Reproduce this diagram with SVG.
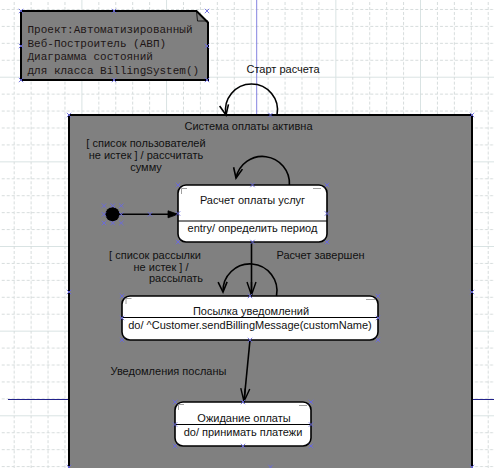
<svg xmlns="http://www.w3.org/2000/svg" xmlns:xlink="http://www.w3.org/1999/xlink" width="494" height="468" viewBox="0 0 494 468">
<style>
.lbl{font-family:"Liberation Sans",Arial,sans-serif;font-size:11px;fill:#111}
.mono{font-family:"Liberation Mono","Courier New",monospace;font-size:11px;fill:#1e1616}
.st{fill:#fff;stroke:#000;stroke-width:1.6}
.div{stroke:#000;stroke-width:1.2}
.cn{fill:none;stroke:#000;stroke-width:1.6}
.tick{fill:none;stroke:#a0a0a0;stroke-width:1}
.hx{stroke:#6a6ae0;stroke-width:0.9;fill:none}
</style>
<defs>
<pattern id="grid" patternUnits="userSpaceOnUse" x="81.4" y="76.7" width="84.65" height="84.65">
<path d="M0.5,0 V84.65 M0,0.5 H84.65" stroke="#d9e3e3" stroke-width="1" fill="none"/>
<path d="M17.43,0 V84.65 M34.36,0 V84.65 M51.29,0 V84.65 M68.22,0 V84.65 M0,17.43 H84.65 M0,34.36 H84.65 M0,51.29 H84.65 M0,68.22 H84.65" stroke="#d6dcdc" stroke-width="1" stroke-dasharray="3,2" fill="none"/>
</pattern>
<marker id="open" markerUnits="userSpaceOnUse" markerWidth="14" markerHeight="12" refX="10" refY="5" orient="auto" overflow="visible">
<path d="M0,0.5 L10,5 L0,9.5" fill="none" stroke="#000" stroke-width="1.6"/>
</marker>
<marker id="open2" markerUnits="userSpaceOnUse" markerWidth="16" markerHeight="12" refX="13" refY="5" orient="auto" overflow="visible">
<path d="M0,0.5 L13,5 L0,9.5 M0,5 L13,5" fill="none" stroke="#000" stroke-width="1.4"/>
</marker>
<marker id="fill" markerUnits="userSpaceOnUse" markerWidth="12" markerHeight="10" refX="10" refY="4" orient="auto" overflow="visible">
<path d="M0,0.5 L10,4 L0,7.5 Z" fill="#000" stroke="#000" stroke-width="0.8"/>
</marker>
<path id="hx" class="hx" d="M-2.2,-2.2 L2.2,2.2 M-2.2,2.2 L2.2,-2.2"/>
</defs>

<rect x="0" y="0" width="494" height="468" fill="#fff"/>
<rect x="0" y="0" width="494" height="468" fill="url(#grid)"/>

<g id="guides">
<line x1="256.7" y1="0" x2="256.7" y2="115" stroke="#8383e0" stroke-width="1"/>
<line x1="8" y1="399.5" x2="69" y2="399.5" stroke="#22228a" stroke-width="1"/>
<line x1="472" y1="399.5" x2="494" y2="399.5" stroke="#22228a" stroke-width="1"/>
</g>

<g id="note">
<polygon points="21,11 196.5,11 208,22.5 208,80 21,80" fill="#808080" stroke="#000" stroke-width="2"/>
<path d="M196.5,11 L197.5,21 L208,21" fill="none" stroke="#000" stroke-width="0.8"/>
<text class="mono" x="27.5" y="33">Проект:Автоматизированный</text>
<text class="mono" x="27.5" y="46.5">Веб-Построитель (АВП)</text>
<text class="mono" x="27.5" y="60">Диаграмма состояний</text>
<text class="mono" x="27.5" y="73.5">для класса BillingSystem()</text>
</g>

<g id="billing-active">
<rect x="69" y="115" width="403" height="356" fill="#808080" stroke="#000" stroke-width="2"/>
<text class="lbl" x="248.5" y="130" text-anchor="middle">Система оплаты активна</text>
</g>

<g id="initial">
<circle cx="112.5" cy="214.3" r="7" fill="#000"/>
</g>

<g id="calc-state">
<rect class="st" x="178" y="185" width="149" height="57" rx="8"/>
<line class="div" x1="178" y1="221" x2="327" y2="221"/>
<path class="tick" d="M181.5,194 V188.5 H187"/>
<path class="tick" d="M313,188.5 H321"/>
<text class="lbl" x="252.5" y="204" text-anchor="middle">Расчет оплаты услуг</text>
<text class="lbl" x="252.5" y="232" text-anchor="middle">entry/ определить период</text>
</g>

<g id="notify-state">
<rect class="st" x="122" y="296" width="256" height="44" rx="8"/>
<line class="div" x1="122" y1="317.5" x2="378" y2="317.5"/>
<path class="tick" d="M126,304 V298.5 H131.5"/>
<path class="tick" d="M366,299.5 H375"/>
<text class="lbl" x="251" y="314.5" text-anchor="middle">Посылка уведомлений</text>
<text class="lbl" x="250" y="329" text-anchor="middle">do/ ^Customer.sendBillingMessage(customName)</text>
</g>

<g id="wait-state">
<rect class="st" x="175" y="402" width="136" height="44" rx="8"/>
<line class="div" x1="175" y1="424.5" x2="311" y2="424.5"/>
<path class="tick" d="M178.5,410 V404.5 H184"/>
<path class="tick" d="M299,405.5 H307"/>
<text class="lbl" x="244" y="422" text-anchor="middle">Ожидание оплаты</text>
<text class="lbl" x="243" y="435.5" text-anchor="middle">do/ принимать платежи</text>
</g>

<g id="connectors">
<path class="cn" d="M277,115 A26,26 0 1 0 226,115" marker-end="url(#open)"/>
<line class="cn" x1="119" y1="214.3" x2="178" y2="214.3" marker-end="url(#fill)"/>
<path class="cn" d="M289.4,185 A27,27 0 0 0 236,178" marker-end="url(#open)"/>
<line class="cn" x1="251.5" y1="242" x2="251.5" y2="295" marker-end="url(#open2)"/>
<path class="cn" d="M276.5,296 A27,27 0 1 0 223,292" marker-end="url(#open)"/>
<line class="cn" x1="250" y1="340" x2="244" y2="401.5" marker-end="url(#open2)"/>
</g>

<g id="labels">
<text class="lbl" x="283" y="73" text-anchor="middle">Старт расчета</text>
<text class="lbl" text-anchor="middle"><tspan x="146" y="147">[ список пользователей</tspan><tspan x="146" y="159">не истек ] / рассчитать</tspan><tspan x="146" y="171">сумму</tspan></text>
<text class="lbl" text-anchor="middle"><tspan x="155" y="259">[ список рассылки</tspan><tspan x="161" y="271">не истек ] /</tspan><tspan x="176" y="282">рассылать</tspan></text>
<text class="lbl" x="320.5" y="259" text-anchor="middle">Расчет завершен</text>
<text class="lbl" x="168.5" y="375" text-anchor="middle">Уведомления посланы</text>
</g>

<g id="handles">
<use xlink:href="#hx" x="21" y="11"/><use xlink:href="#hx" x="114" y="11"/><use xlink:href="#hx" x="207" y="11"/>
<use xlink:href="#hx" x="21" y="46"/><use xlink:href="#hx" x="207" y="46"/>
<use xlink:href="#hx" x="21" y="80"/><use xlink:href="#hx" x="114" y="80"/><use xlink:href="#hx" x="207" y="80"/>
<use xlink:href="#hx" x="69" y="115"/><use xlink:href="#hx" x="270.5" y="115"/><use xlink:href="#hx" x="472" y="115"/>
<use xlink:href="#hx" x="69" y="292"/><use xlink:href="#hx" x="472" y="292"/>
<use xlink:href="#hx" x="69" y="467"/><use xlink:href="#hx" x="270.5" y="467"/><use xlink:href="#hx" x="472" y="467"/>
<use xlink:href="#hx" x="178" y="185"/><use xlink:href="#hx" x="252.5" y="185"/><use xlink:href="#hx" x="327" y="185"/>
<use xlink:href="#hx" x="178" y="213.5"/><use xlink:href="#hx" x="327" y="213.5"/>
<use xlink:href="#hx" x="178" y="242"/><use xlink:href="#hx" x="252.5" y="242"/><use xlink:href="#hx" x="327" y="242"/>
<use xlink:href="#hx" x="104" y="205.7"/><use xlink:href="#hx" x="112.7" y="205.7"/><use xlink:href="#hx" x="121.3" y="205.7"/>
<use xlink:href="#hx" x="104" y="214.3"/><use xlink:href="#hx" x="121.3" y="214.3"/>
<use xlink:href="#hx" x="104" y="223"/><use xlink:href="#hx" x="112.7" y="223"/><use xlink:href="#hx" x="121.3" y="223"/>
<use xlink:href="#hx" x="150" y="214.3"/>
<use xlink:href="#hx" x="122" y="296"/><use xlink:href="#hx" x="250" y="296"/><use xlink:href="#hx" x="378" y="296"/>
<use xlink:href="#hx" x="122" y="318"/><use xlink:href="#hx" x="378" y="318"/>
<use xlink:href="#hx" x="122" y="340"/><use xlink:href="#hx" x="250" y="340"/><use xlink:href="#hx" x="378" y="340"/>
<use xlink:href="#hx" x="175" y="402"/><use xlink:href="#hx" x="243" y="402"/><use xlink:href="#hx" x="311" y="402"/>
<use xlink:href="#hx" x="175" y="424.5"/><use xlink:href="#hx" x="311" y="424.5"/>
<use xlink:href="#hx" x="175" y="446"/><use xlink:href="#hx" x="243" y="446"/><use xlink:href="#hx" x="311" y="446"/>
</g>
</svg>
